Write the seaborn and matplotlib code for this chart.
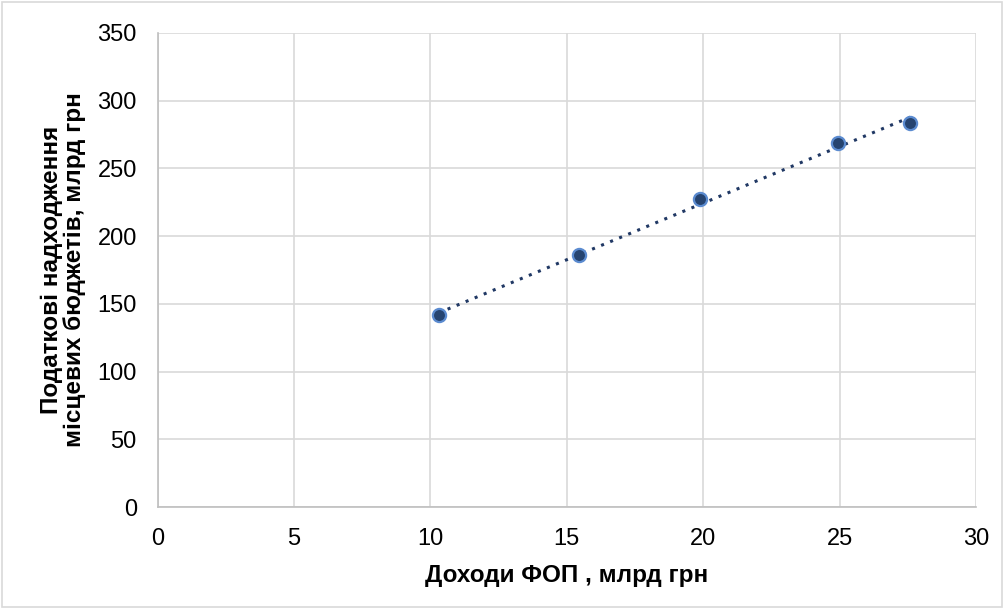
import pandas as pd
import matplotlib
matplotlib.use("Agg")
import matplotlib.pyplot as plt
import seaborn as sns

# data
fop_income = [10.3, 15.45, 19.9, 24.95, 27.6]
local_tax = [141.5, 186.0, 227.0, 268.5, 283.5]

df = pd.DataFrame({"x": fop_income, "y": local_tax})

sns.set_style("white")
plt.rcParams['font.family'] = ['Liberation Sans', 'DejaVu Sans']

fig = plt.figure(figsize=(10.04, 6.08), dpi=100)
ax = fig.add_axes([0.157, 0.166, 0.815, 0.780])

# linear trendline
sns.regplot(data=df, x="x", y="y", scatter=False, ci=None, truncate=True, ax=ax,
            line_kws=dict(color="#203864", linestyle=(0, (1, 2.2)), linewidth=2.2))
sns.scatterplot(data=df, x="x", y="y", ax=ax, s=90, color="#264470",
                edgecolor="#5B8BD0", linewidth=1.6, zorder=5)

ax.set_xlim(0, 30)
ax.set_ylim(0, 350)
ax.set_xticks(range(0, 31, 5))
ax.set_yticks(range(0, 351, 50))
ax.grid(True, color="#d9d9d9", linewidth=1.2)
ax.set_axisbelow(True)
for side in ["top", "right"]:
    ax.spines[side].set_visible(False)
for side in ["left", "bottom"]:
    ax.spines[side].set_color("#bfbfbf")
    ax.spines[side].set_linewidth(1.2)
ax.tick_params(axis="both", length=0, labelsize=17, colors="black")
ax.tick_params(axis="y", pad=15)
ax.tick_params(axis="x", pad=15)

ax.set_xlabel("Доходи ФОП , млрд грн", fontsize=17.5, fontweight="bold",
              labelpad=10, color="black")
ax.set_ylabel("Податкові надходження\nмісцевих бюджетів, млрд грн", fontsize=17.5,
              fontweight="bold", labelpad=8, linespacing=1.0, color="black")

# chart border
fig.patches.append(plt.Rectangle((0.002, 0.002), 0.996, 0.995, transform=fig.transFigure,
                                 fill=False, edgecolor="#d9d9d9", linewidth=1.2))

fig.savefig("out.png", dpi=100)
